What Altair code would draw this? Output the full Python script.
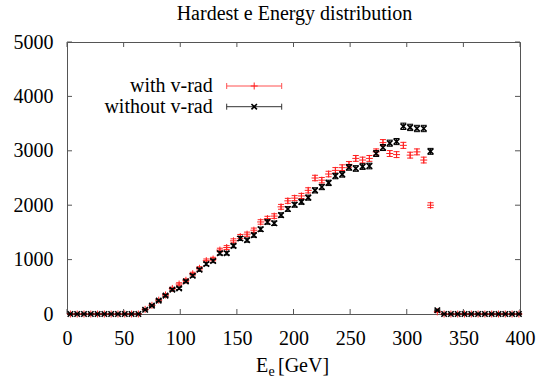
import altair as alt
import pandas as pd

# ---------------- data ----------------
energy = [3, 9, 15, 21, 27, 33, 39, 45, 51, 57, 63, 69, 75, 81, 87, 93, 99, 105,
          111, 117, 123, 129, 135, 141, 147, 153, 159, 165, 171, 177, 183, 189,
          195, 201, 207, 213, 219, 225, 231, 237, 243, 249, 255, 261, 267, 273,
          279, 285, 291, 297, 303, 309, 315, 321, 327, 333, 339, 345, 351, 357,
          363, 369, 375, 381, 387, 393, 399]

with_vrad = [0, 0, 0, 0, 0, 0, 0, 0, 0, 0, 0, 85, 160, 255, 350, 470, 551, 620,
             740, 840, 980, 1010, 1175, 1222, 1345, 1424, 1467, 1540, 1692, 1754,
             1800, 1970, 2080, 2130, 2170, 2273, 2500, 2460, 2573, 2640, 2690,
             2750, 2860, 2830, 2860, 2980, 3150, 2950, 2930, 3100, 2920, 2980,
             2830, 2000, 40, 0, 0, 0, 0, 0, 0, 0, 0, 0, 0, 0, 0]

without_vrad = [0, 0, 0, 0, 0, 0, 0, 0, 0, 0, 0, 79, 153, 245, 337, 447, 472, 600,
                704, 814, 919, 975, 1118, 1118, 1253, 1388, 1357, 1449, 1558, 1692,
                1668, 1818, 1930, 2008, 2062, 2139, 2273, 2334, 2410, 2536, 2567,
                2695, 2675, 2710, 2720, 2950, 3060, 3140, 3170, 3450, 3430, 3410,
                3410, 2990, 70, 0, 0, 0, 0, 0, 0, 0, 0, 0, 0, 0, 0]

series_names = ["with v-rad", "without v-rad"]
x_ticks = [0, 50, 100, 150, 200, 250, 300, 350, 400]
y_ticks = [0, 1000, 2000, 3000, 4000, 5000]
title_text = "Hardest e Energy distribution"

# ---------------- style ----------------
W, H = 453, 272
RED = "#ff2020"
BLACK = "#000000"
FRAME = "#555555"
FONT = "'Liberation Serif', 'Times New Roman', Times, 'DejaVu Serif', serif"
PLUS = "M-1,0L1,0M0,-1L0,1"
CROSS = "M-1,-1L1,1M-1,1L1,-1"
HBAR = "M-1,0L1,0"

n = len(energy)
df = pd.DataFrame({
    "E": energy + energy,
    "N": with_vrad + without_vrad,
    "series": [series_names[0]] * n + [series_names[1]] * n,
})

xs = alt.Scale(domain=[0, 400], nice=False, zero=False)
ys = alt.Scale(domain=[0, 5000], nice=False)
color = alt.Color("series:N", scale=alt.Scale(domain=series_names, range=[RED, BLACK]), legend=None)

xaxis = alt.Axis(values=x_ticks, format="d", labelFontSize=20, labelFont=FONT, labelColor="black",
                 ticks=False, tickSize=0, domain=False, grid=False, labelPadding=14,
                 title=None, labelFlush=False)
yaxis = alt.Axis(values=y_ticks, format="d", labelFontSize=20, labelFont=FONT, labelColor="black",
                 ticks=False, tickSize=0, domain=False, grid=False, labelPadding=14,
                 title=None, labelFlush=False)

base = alt.Chart(df).transform_calculate(
    lo="datum.N - sqrt(datum.N)", hi="datum.N + sqrt(datum.N)"
)

layers = []
for name, shape, size, sw in [(series_names[0], PLUS, 49, 1.0), (series_names[1], CROSS, 30, 1.6)]:
    b = base.transform_filter(alt.datum.series == name)
    layers.append(b.mark_rule(strokeWidth=1).encode(
        x=alt.X("E:Q", scale=xs, axis=xaxis),
        y=alt.Y("lo:Q", scale=ys, axis=yaxis),
        y2="hi:Q", color=color))
    for fld in ["lo", "hi"]:
        layers.append(b.mark_point(shape=HBAR, size=36, filled=False, strokeWidth=1, opacity=1).encode(
            x=alt.X("E:Q", scale=xs), y=alt.Y(f"{fld}:Q", scale=ys), color=color))
    layers.append(b.mark_point(shape=shape, size=size, filled=False, strokeWidth=sw, opacity=1).encode(
        x=alt.X("E:Q", scale=xs), y=alt.Y("N:Q", scale=ys), color=color))

# inward ticks on all four sides
xt = alt.Chart(pd.DataFrame({"t": x_ticks}))
yt = alt.Chart(pd.DataFrame({"t": y_ticks}))
ticks = [
    xt.mark_rule(color=FRAME, strokeWidth=1).encode(x=alt.X("t:Q", scale=xs), y=alt.value(H), y2=alt.value(H - 5)),
    xt.mark_rule(color=FRAME, strokeWidth=1).encode(x=alt.X("t:Q", scale=xs), y=alt.value(0), y2=alt.value(5)),
    yt.mark_rule(color=FRAME, strokeWidth=1).encode(y=alt.Y("t:Q", scale=ys), x=alt.value(0), x2=alt.value(5)),
    yt.mark_rule(color=FRAME, strokeWidth=1).encode(y=alt.Y("t:Q", scale=ys), x=alt.value(W), x2=alt.value(W - 5)),
]

one = alt.Chart(pd.DataFrame({"k": [0]}))

# title
title = alt.Chart(pd.DataFrame({"t": [title_text]})).mark_text(
    font=FONT, fontSize=20, color="black", align="center", baseline="alphabetic"
).encode(text="t:N", x=alt.value(W / 2 + 1), y=alt.value(-22))

# x axis title E_e [GeV]
xtitle = [
    alt.Chart(pd.DataFrame({"t": ["E"]})).mark_text(font=FONT, fontSize=20, color="black", align="left", baseline="alphabetic")
    .encode(text="t:N", x=alt.value(189), y=alt.value(330)),
    alt.Chart(pd.DataFrame({"t": ["e"]})).mark_text(font=FONT, fontSize=14, color="black", align="left", baseline="alphabetic")
    .encode(text="t:N", x=alt.value(201.5), y=alt.value(334)),
    alt.Chart(pd.DataFrame({"t": ["[GeV]"]})).mark_text(font=FONT, fontSize=20, color="black", align="left", baseline="alphabetic")
    .encode(text="t:N", x=alt.value(211), y=alt.value(330)),
]

# legend
legend = []
for name, col, shape, size, sw, ly in [(series_names[0], RED, PLUS, 49, 1.0, 44),
                                       (series_names[1], BLACK, CROSS, 30, 1.6, 64.7)]:
    lcol = "#ff5050" if col == RED else "#333333"
    legend.append(alt.Chart(pd.DataFrame({"t": [name]})).mark_text(
        font=FONT, fontSize=20, color="black", align="right", baseline="middle"
    ).encode(text="t:N", x=alt.value(145.7), y=alt.value(ly)))
    legend.append(one.mark_rule(color=lcol, strokeWidth=1).encode(
        x=alt.value(159.7), x2=alt.value(214.7), y=alt.value(ly)))
    for cx in (159.7, 214.7):
        legend.append(one.mark_rule(color=lcol, strokeWidth=1).encode(
            x=alt.value(cx), y=alt.value(ly - 3), y2=alt.value(ly + 3)))
    legend.append(one.mark_point(shape=shape, size=size, filled=False, strokeWidth=sw, color=col, opacity=1).encode(
        x=alt.value(187.2), y=alt.value(ly)))

chart = alt.layer(*ticks, *layers, title, *xtitle, *legend).properties(
    width=W, height=H,
    autosize=alt.AutoSizeParams(type="none"),
    padding={"left": 67, "top": 42, "right": 27, "bottom": 67},
    background="white",
).configure_view(stroke=FRAME, strokeWidth=1)

chart.save("out.html", embed_options={"renderer": "svg", "actions": False})
